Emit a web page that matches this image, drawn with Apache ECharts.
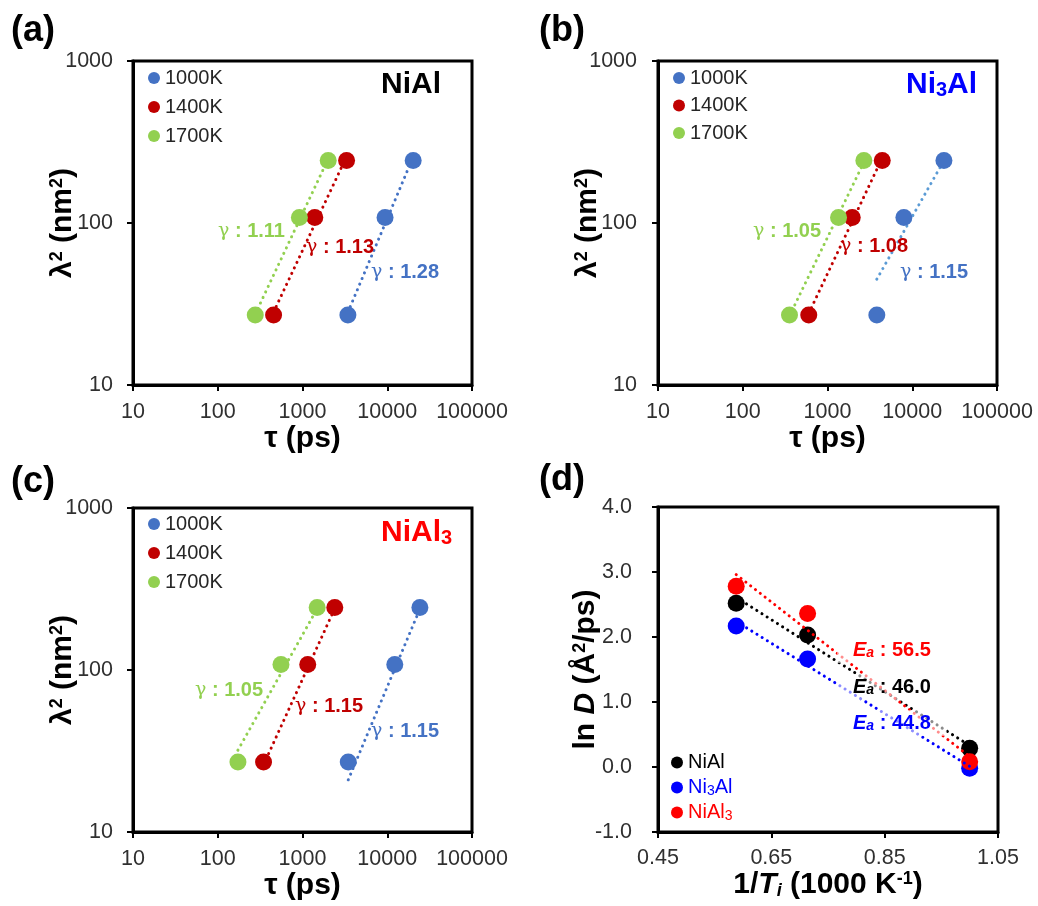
<!DOCTYPE html>
<html><head><meta charset="utf-8">
<script src="https://cdn.jsdelivr.net/npm/echarts@6/dist/echarts.min.js"></script>
<style>html,body{margin:0;padding:0;background:#fff}#c{width:1038px;height:906px}</style>
</head><body><div id="c"></div>
<script>
// ---------------- DATA ----------------
const temps = ['1000K', '1400K', '1700K'];
const lambda2 = [27.04, 108.16, 243.36];           // λ² (nm²)

// (a) NiAl  τ (ps)
const tauA_1000K = [3432, 9420, 20230];
const tauA_1400K = [456, 1396, 3311];
const tauA_1700K = [277, 919, 2010];
// (b) Ni3Al
const tauB_1000K = [3820, 7966, 23650];
const tauB_1400K = [601, 1958, 4426];
const tauB_1700K = [356, 1349, 2686];
// (c) NiAl3
const tauC_1000K = [3467, 12270, 24270];
const tauC_1400K = [347, 1153, 2404];
const tauC_1700K = [173, 557, 1489];

// power-law trend lines (end points, data units)
const fitA_1000K = [[3432, 28.1], [20230, 256]];
const fitA_1400K = [[456, 28.2], [3311, 257]];
const fitA_1700K = [[277, 27.4], [2010, 249]];
const fitB_1000K = [[3820, 45], [23650, 243]];
const fitB_1400K = [[601, 27.7], [4426, 252]];
const fitB_1700K = [[356, 26.7], [2686, 237]];
const fitC_1000K = [[3467, 21], [24270, 238]];
const fitC_1400K = [[347, 26], [2404, 240]];
const fitC_1700K = [[173, 32], [1489, 239]];

const gammaA = ['1.28', '1.13', '1.11'];
const gammaB = ['1.15', '1.08', '1.05'];
const gammaC = ['1.15', '1.15', '1.05'];

// (d) Arrhenius
const compounds = ['NiAl', 'Ni3Al', 'NiAl3'];
const invT = [0.588, 0.714, 1.0];                  // 1/T (1000 K^-1)
const lnD_NiAl = [2.52, 2.03, 0.29];
const lnD_Ni3Al = [2.17, 1.66, -0.02];
const lnD_NiAl3 = [2.78, 2.36, 0.08];
const fitD_NiAl = [[0.588, 2.61], [1.0, 0.33]];
const fitD_Ni3Al = [[0.588, 2.24], [1.0, 0.01]];
const fitD_NiAl3 = [[0.588, 2.96], [1.0, 0.16]];
const activationE = ['46.0', '44.8', '56.5'];

// tick labels
const logXTicks = [10, 100, 1000, 10000, 100000];
const logYTicks = [10, 100, 1000];
const dXTicks = [0.45, 0.65, 0.85, 1.05];
const dYTicks = [-1, 0, 1, 2, 3, 4];

// ---------------- STYLE ----------------
const FONT = '"Liberation Sans", Arial, sans-serif';
const tempColors = ['#4472C4', '#C00000', '#92D050'];
const compColors = ['#000000', '#0000FF', '#FF0000'];
const tickColor = '#303030';
const TICK_FS = 21.5;

const chart = echarts.init(document.getElementById('c'), null, {renderer: 'canvas'});

const titleStyle = {fontFamily: FONT, fontSize: 30, fontWeight: 'bold', color: '#000'};
function supRich() {
  return {
    s: {fontFamily: FONT, fontSize: 18, fontWeight: 'bold', color: '#000', verticalAlign: 'top'},
    i: {fontFamily: FONT, fontSize: 30, fontWeight: 'bold', fontStyle: 'italic', color: '#000'},
    si: {fontFamily: FONT, fontSize: 18, fontWeight: 'bold', fontStyle: 'italic', color: '#000', verticalAlign: 'bottom'}
  };
}

function baseAxis(gi) {
  return {
    gridIndex: gi,
    nameLocation: 'middle',
    nameMoveOverlap: false,
    nameTextStyle: Object.assign({rich: supRich()}, titleStyle),
    axisLine: {show: true, onZero: false, lineStyle: {color: '#000', width: 3}},
    splitLine: {show: false},
    minorTick: {show: false},
    minorSplitLine: {show: false}
  };
}
function xLog(gi) {
  return Object.assign(baseAxis(gi), {
    type: 'log', logBase: 10, min: 10, max: 100000,
    name: 'τ (ps)', nameGap: 39,
    axisTick: {show: true, length: 6, lineStyle: {color: '#000', width: 2}, customValues: logXTicks},
    axisLabel: {margin: 16, fontSize: TICK_FS, fontFamily: FONT, color: tickColor, customValues: logXTicks,
      formatter: v => String(Math.round(v))}
  });
}
function yLog(gi, margin) {
  return Object.assign(baseAxis(gi), {
    type: 'log', logBase: 10, min: 10, max: 1000,
    name: 'λ{s|2} (nm{s|2})', nameGap: 55, nameRotate: 90,
    axisTick: {show: true, length: 6, lineStyle: {color: '#000', width: 2}, customValues: logYTicks},
    axisLabel: {margin: margin, fontSize: TICK_FS, fontFamily: FONT, color: tickColor, customValues: logYTicks,
      formatter: v => String(Math.round(v))}
  });
}

const xAxes = [xLog(0), xLog(1), xLog(2),
  Object.assign(baseAxis(3), {
    type: 'value', min: 0.45, max: 1.05,
    name: '1/{i|T}{si|i} (1000 K{s|-1})', nameGap: 38,
    axisTick: {show: true, length: 6, lineStyle: {color: '#000', width: 2}, customValues: dXTicks},
    axisLabel: {margin: 15, fontSize: TICK_FS, fontFamily: FONT, color: tickColor, customValues: dXTicks,
      formatter: v => v.toFixed(2)}
  })];
const yAxes = [yLog(0, 20), yLog(1, 21), yLog(2, 20),
  Object.assign(baseAxis(3), {
    type: 'value', min: -1, max: 4, interval: 1,
    name: 'ln {i|D} (Å{s|2}/ps)', nameGap: 57, nameRotate: 90,
    axisTick: {show: true, length: 6, lineStyle: {color: '#000', width: 2}, customValues: dYTicks},
    axisLabel: {margin: 26, fontSize: TICK_FS, fontFamily: FONT, color: tickColor, customValues: dYTicks,
      formatter: v => v.toFixed(1)}
  })];

const gridBox = {show: true, borderColor: '#000', borderWidth: 3, backgroundColor: 'transparent'};
const grids = [
  Object.assign({left: 133, top: 61, width: 339, height: 324}, gridBox),
  Object.assign({left: 658, top: 61, width: 339, height: 324}, gridBox),
  Object.assign({left: 133, top: 508, width: 339, height: 324}, gridBox),
  Object.assign({left: 658, top: 507, width: 340, height: 325}, gridBox)
];

function dotted(color) {
  return {color: color, width: 3, type: [0.1, 6], cap: 'round'};
}

const series = [];
const panelTaus = [
  [tauA_1000K, tauA_1400K, tauA_1700K],
  [tauB_1000K, tauB_1400K, tauB_1700K],
  [tauC_1000K, tauC_1400K, tauC_1700K]
];
const panelFits = [
  [fitA_1000K, fitA_1400K, fitA_1700K],
  [fitB_1000K, fitB_1400K, fitB_1700K],
  [fitC_1000K, fitC_1400K, fitC_1700K]
];
const fitColorsB = ['#5B9BD5', '#C00000', '#92D050'];
panelTaus.forEach((taus, p) => {
  taus.forEach((tau, k) => {
    series.push({
      type: 'line', name: temps[k] + ' trend', xAxisIndex: p, yAxisIndex: p,
      data: panelFits[p][k], showSymbol: false, symbol: 'none', z: 1, silent: true,
      lineStyle: dotted(p === 1 ? fitColorsB[k] : tempColors[k])
    });
  });
  taus.forEach((tau, k) => {
    series.push({
      type: 'scatter', name: temps[k], xAxisIndex: p, yAxisIndex: p, z: 2,
      data: tau.map((t, i) => [t, lambda2[i]]),
      symbol: 'circle', symbolSize: 17, itemStyle: {color: tempColors[k], opacity: 1}
    });
  });
});
const lnD = [lnD_NiAl, lnD_Ni3Al, lnD_NiAl3];
const fitD = [fitD_NiAl, fitD_Ni3Al, fitD_NiAl3];
lnD.forEach((vals, k) => {
  series.push({
    type: 'scatter', name: compounds[k], xAxisIndex: 3, yAxisIndex: 3, z: 2,
    data: vals.map((v, i) => [invT[i], v]),
    symbol: 'circle', symbolSize: 17, itemStyle: {color: compColors[k], opacity: 1}
  });
});
fitD.forEach((f, k) => {
  series.push({
    type: 'line', name: compounds[k] + ' trend', xAxisIndex: 3, yAxisIndex: 3,
    data: f, showSymbol: false, symbol: 'none', z: 3, silent: true,
    lineStyle: dotted(compColors[k])
  });
});

function tempLegend(left, top, gap) {
  return {
    data: temps, left: left, top: top, orient: 'vertical', itemGap: gap, padding: 0,
    itemWidth: 12, itemHeight: 12, icon: 'circle', selectedMode: false,
    textStyle: {fontFamily: FONT, fontSize: 20, color: '#262626', padding: 0}
  };
}
function compLegendItem(name, color) {
  return {
    name: name, icon: 'circle',
    textStyle: {color: color, fontFamily: FONT, fontSize: 20,
      rich: {s: {fontFamily: FONT, fontSize: 14, color: color, verticalAlign: 'bottom'}}}
  };
}
const legends = [
  tempLegend(148, 68, 9),
  tempLegend(673, 68, 7.5),
  tempLegend(148, 514, 9),
  {
    data: compounds.map((c, k) => compLegendItem(c, compColors[k])),
    left: 671, top: 752, orient: 'vertical', itemGap: 4, padding: 0,
    itemWidth: 12, itemHeight: 12, selectedMode: false,
    formatter: n => n === 'Ni3Al' ? 'Ni{s|3}Al' : (n === 'NiAl3' ? 'NiAl{s|3}' : n),
    textStyle: {fontFamily: FONT, fontSize: 20, lineHeight: 21}
  }
];

// ---------------- ANNOTATIONS ----------------
function txt(x, y, text, extra) {
  return {type: 'text', x: x, y: y, z: 100, silent: true,
    style: Object.assign({text: text, fontFamily: FONT, fontSize: 19, fontWeight: 'bold',
      fill: '#000', align: 'left', verticalAlign: 'middle'}, extra || {})};
}
function subRich(color, size) {
  return {s: {fontFamily: FONT, fontSize: size, fontWeight: 'bold', fill: color, verticalAlign: 'bottom'}};
}
function gammaLabel(x, y, val, color) {
  return txt(x, y, '{g|γ} : ' + val, {
    fill: color, fontSize: 20,
    rich: {g: {fontFamily: '"DejaVu Serif", serif', fontSize: 19, fontWeight: 'normal', fill: color}}
  });
}
function eaLabel(x, y, val, color) {
  return txt(x, y, '{e|E}{a|a}{t| : ' + val + '}', {
    fill: color, backgroundColor: 'rgba(255,255,255,0.55)', padding: [3, 16, 3, 16],
    rich: {
      e: {fontFamily: FONT, fontSize: 20, fontWeight: 'bold', fontStyle: 'italic', fill: color},
      a: {fontFamily: FONT, fontSize: 14, fontWeight: 'bold', fontStyle: 'italic', fill: color, verticalAlign: 'bottom'},
      t: {fontFamily: FONT, fontSize: 20, fontWeight: 'bold', fill: color}
    }
  });
}
const graphics = [
  txt(11, 31, '(a)', {fontSize: 36}),
  txt(539, 31, '(b)', {fontSize: 36}),
  txt(11, 482, '(c)', {fontSize: 36}),
  txt(539, 480, '(d)', {fontSize: 36}),
  txt(381, 85, 'NiAl', {fontSize: 30}),
  txt(906, 85, 'Ni{s|3}Al', {fontSize: 30, fill: '#0000FF', rich: subRich('#0000FF', 20)}),
  txt(381, 533, 'NiAl{s|3}', {fontSize: 30, fill: '#FF0000', rich: subRich('#FF0000', 20)}),
  // γ labels
  gammaLabel(371, 272, gammaA[0], tempColors[0]),
  gammaLabel(306, 247, gammaA[1], tempColors[1]),
  gammaLabel(218, 231, gammaA[2], tempColors[2]),
  gammaLabel(900, 272, gammaB[0], tempColors[0]),
  gammaLabel(840, 246, gammaB[1], tempColors[1]),
  gammaLabel(753, 231, gammaB[2], tempColors[2]),
  gammaLabel(371, 731, gammaC[0], tempColors[0]),
  gammaLabel(295, 706, gammaC[1], tempColors[1]),
  gammaLabel(195, 690, gammaC[2], tempColors[2]),
  // activation energies
  eaLabel(837, 650, activationE[2], compColors[2]),
  eaLabel(837, 687, activationE[0], compColors[0]),
  eaLabel(837, 723, activationE[1], compColors[1])
];

chart.setOption({
  animation: false,
  backgroundColor: '#fff',
  textStyle: {fontFamily: FONT},
  grid: grids,
  xAxis: xAxes,
  yAxis: yAxes,
  legend: legends,
  series: series,
  graphic: graphics
});
</script>
</body></html>
